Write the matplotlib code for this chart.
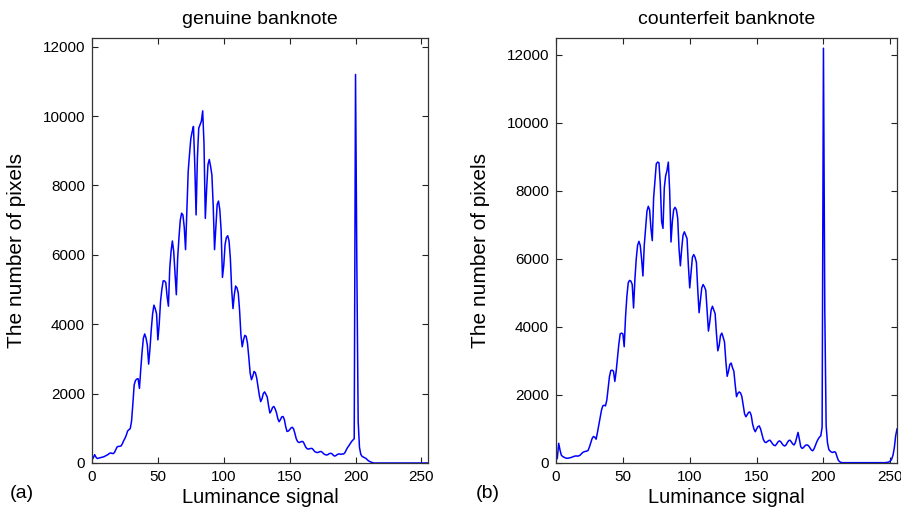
import matplotlib
matplotlib.use("Agg")
import matplotlib.pyplot as plt
import numpy as np

plt.rcParams['font.family'] = ['Liberation Sans', 'DejaVu Sans']

# luminance levels 0..255
lum = np.arange(256)

# genuine banknote histogram
genuine = [
    100, 150, 240, 170, 130, 140, 150, 160, 170, 180,
    200, 220, 240, 270, 290, 280, 270, 300, 380, 460,
    480, 480, 490, 550, 640, 710, 800, 920, 960, 990,
    1200, 1700, 2250, 2380, 2420, 2430, 2150, 2700, 3200, 3600,
    3720, 3600, 3400, 2850, 3300, 3850, 4300, 4550, 4450, 4300,
    3550, 4000, 4650, 5000, 5250, 5250, 5200, 4800, 4520, 5600,
    6100, 6400, 6100, 5500, 4850, 5900, 6500, 7000, 7200, 7150,
    6800, 6150, 7300, 8400, 8900, 9350, 9550, 9700, 8600, 7150,
    8800, 9650, 9750, 9850, 10150, 9200, 7050, 7900, 8600, 8750,
    8550, 8300, 7400, 6150, 6800, 7450, 7550, 7300, 6700, 5350,
    5700, 6300, 6500, 6550, 6400, 5900, 5000, 4450, 4850, 5100,
    5050, 4900, 4400, 3700, 3350, 3550, 3680, 3650, 3450, 3050,
    2600, 2400, 2500, 2640, 2600, 2450, 2200, 1950, 1770, 1850,
    2000, 2050, 1980, 1900, 1650, 1440, 1500, 1600, 1630, 1560,
    1450, 1280, 1190, 1250, 1330, 1340, 1250, 1050, 910, 920,
    960, 1010, 1030, 980, 850, 700, 620, 590, 600, 620,
    620, 560, 470, 420, 400, 410, 420, 420, 380, 330,
    310, 300, 310, 330, 330, 300, 260, 240, 230, 240,
    270, 280, 270, 230, 200, 210, 240, 260, 260, 250,
    260, 260, 300, 380, 450, 500, 560, 620, 660, 700,
    11200, 5700, 1200, 450, 250, 190, 170, 150, 130, 90,
    60, 40, 20, 10, 0, 0, 0, 0, 0, 0,
    0, 0, 0, 0, 0, 0, 0, 0, 0, 0,
    0, 0, 0, 0, 0, 0, 0, 0, 0, 0,
    0, 0, 0, 0, 0, 0, 0, 0, 0, 0,
    0, 0, 0, 0, 0, 0,
]

# counterfeit banknote histogram
counterfeit = [
    80, 150, 580, 380, 230, 190, 170, 150, 140, 140,
    150, 160, 170, 190, 200, 210, 200, 210, 230, 270,
    310, 330, 340, 350, 370, 470, 600, 720, 780, 760,
    700, 900, 1120, 1350, 1550, 1680, 1700, 1680, 1850, 2200,
    2550, 2720, 2730, 2700, 2400, 2700, 3100, 3500, 3800, 3820,
    3800, 3420, 4300, 4900, 5300, 5370, 5350, 5250, 4560, 5400,
    6000, 6400, 6520, 6400, 6000, 5500, 6400, 6900, 7400, 7550,
    7450, 6900, 6540, 7800, 8300, 8800, 8850, 8830, 8200, 7100,
    6900, 8100, 8450, 8600, 8850, 8000, 6500, 7100, 7450, 7520,
    7450, 7200, 6300, 5800, 6300, 6700, 6800, 6700, 6600, 5800,
    5150, 5600, 6050, 6130, 6050, 5900, 5100, 4420, 4800, 5150,
    5250, 5180, 5080, 4500, 3880, 4150, 4500, 4610, 4500, 4390,
    3800, 3300, 3450, 3750, 3820, 3700, 3560, 3000, 2550, 2700,
    2900, 2940, 2800, 2700, 2300, 1950, 2050, 2090, 2060, 1950,
    1700, 1450, 1360, 1420, 1490, 1500, 1400, 1150, 1000, 920,
    1000, 1070, 1090, 1000, 850, 700, 620, 600, 630, 660,
    670, 620, 560, 520, 510, 560, 620, 650, 630, 570,
    520, 500, 530, 600, 660, 670, 620, 560, 530, 600,
    750, 900, 700, 480, 430, 450, 500, 530, 530, 500,
    440, 380, 360, 420, 520, 620, 700, 760, 800, 1050,
    12200, 4500, 1100, 600, 400, 350, 320, 310, 330, 320,
    200, 90, 40, 20, 10, 10, 10, 10, 10, 10,
    10, 10, 10, 10, 10, 10, 10, 10, 10, 10,
    10, 10, 10, 10, 10, 10, 10, 10, 10, 10,
    10, 10, 10, 10, 10, 10, 10, 15, 20, 30,
    60, 110, 230, 450, 800, 1000,
]

titles = ["genuine banknote", "counterfeit banknote"]
panel_tags = ["(a)", "(b)"]
ymax = [12250, 12500]

fig = plt.figure(figsize=(9.01, 5.15), dpi=100)
ax1 = fig.add_axes([92/901, 52/515, 336/901, 425/515])
ax2 = fig.add_axes([556/901, 52/515, 341/901, 425/515])

for ax, data, title, top in zip([ax1, ax2], [genuine, counterfeit], titles, ymax):
    ax.plot(lum, data, color='#0000ff', lw=1.1)
    ax.set_xlim(0, 255)
    ax.set_ylim(0, top)
    ax.set_xticks([0, 50, 100, 150, 200, 250])
    ax.set_yticks(np.arange(0, 12001, 2000))
    ax.tick_params(direction='in', length=4, width=0.8, top=True, right=True,
                   labelsize=11, pad=5, colors='#222222', labelcolor='black')
    for s in ax.spines.values():
        s.set_linewidth(0.9)
        s.set_color('#333333')
    ax.set_title(title, fontsize=14, pad=10)
    ax.set_xlabel("Luminance signal", fontsize=14.5, labelpad=3)
    ax.set_ylabel("The number of pixels", fontsize=15)
    ax.yaxis.set_label_coords(-0.195, 0.5)

fig.text(10/901, 1 - 493/515, panel_tags[0], fontsize=14, va='center', ha='left')
fig.text(476/901, 1 - 493/515, panel_tags[1], fontsize=14, va='center', ha='left')

fig.savefig("out.png", dpi=100)
